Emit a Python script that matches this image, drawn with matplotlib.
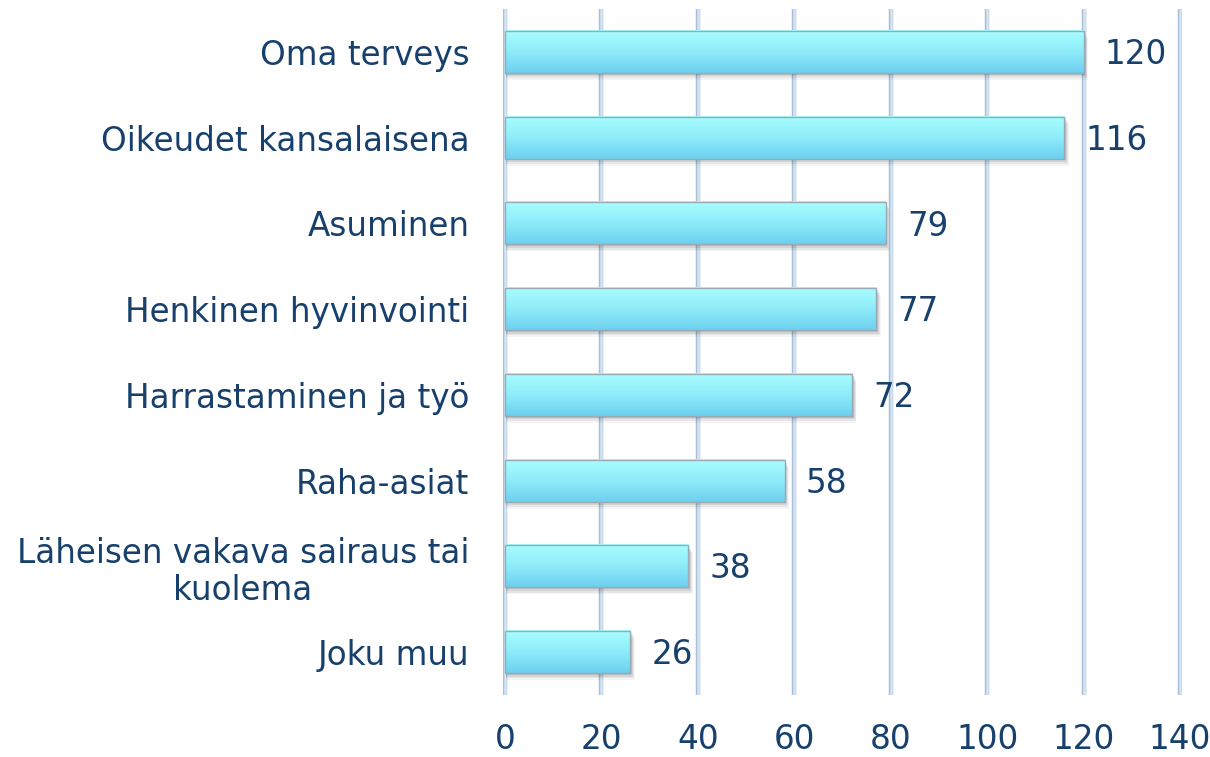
import matplotlib
matplotlib.use("Agg")
import matplotlib.pyplot as plt
import numpy as np
from matplotlib.patches import Rectangle
from matplotlib.colors import LinearSegmentedColormap

categories = ["Oma terveys", "Oikeudet kansalaisena", "Asuminen", "Henkinen hyvinvointi",
              "Harrastaminen ja työ", "Raha-asiat", "Läheisen vakava sairaus tai\nkuolema", "Joku muu"]
values = [120, 116, 79, 77, 72, 58, 38, 26]
xticks = [0, 20, 40, 60, 80, 100, 120, 140]

text_color = "#17406d"
plt.rcParams['font.family'] = ['DejaVu Sans']

fig = plt.figure(figsize=(12.1, 7.57), dpi=100)
ax = fig.add_axes([502.6 / 1210, 0.0819, (1182.4 - 502.6) / 1210, 0.988 - 0.0819])

n = len(categories)
ys = np.arange(n)

# gridlines
for t in xticks:
    ax.axvline(t, color="#a9bfd4", lw=3.2, zorder=1)
    ax.axvline(t, color="#d3e5f6", lw=1.8, zorder=1.1)

h = 0.49
grad = np.linspace(0, 1, 100).reshape(-1, 1)
cmap = LinearSegmentedColormap.from_list("g", ["#a8feff", "#8fecfa", "#6dd0ef"])
for y, v in zip(ys, values):
    for k, a in enumerate([0.10, 0.08, 0.06, 0.04]):
        d = 0.02 + 0.02 * k
        ax.add_patch(Rectangle((0.3, y - h / 2 + d), v + 0.2 * k, h, color="black",
                               alpha=a, lw=0, zorder=2))
    ax.imshow(grad, extent=[0, v, y + h / 2, y - h / 2], cmap=cmap, aspect="auto",
              zorder=3, interpolation="bilinear")
    ax.add_patch(Rectangle((0, y - h / 2), v, h, fill=False, ec="#9aaab5", lw=1.0, zorder=4))
    ax.text(v + 4.4, y + 0.03, str(v), va="center", ha="left", fontsize=23.5, color=text_color, zorder=5)

ax.set_xlim(-0.5, 140.5)
ax.set_ylim(n - 0.5, -0.5)
ax.set_yticks(ys)
ax.set_yticklabels(categories, fontsize=23.5, color=text_color, multialignment="center",
                   linespacing=1.15)
ax.set_xticks(xticks)
ax.set_xticklabels([str(t) for t in xticks], fontsize=23.5, color=text_color)
ax.tick_params(axis="both", length=0)
ax.tick_params(axis="y", pad=24)
ax.tick_params(axis="x", pad=20)
for s in ax.spines.values():
    s.set_visible(False)

fig.savefig("out.png", dpi=100)
